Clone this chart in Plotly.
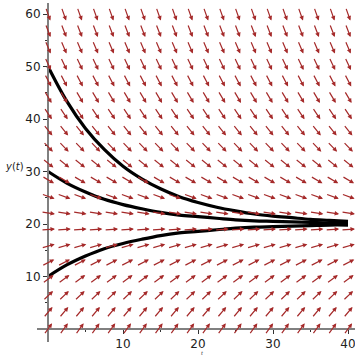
import math
import plotly.graph_objects as go

# ---- data ----
t_curve = [0, 2.5, 5, 7.5, 10, 12.5, 15, 17.5, 20, 22.5, 25, 27.5, 30, 32.5, 35, 37.5, 40]
y_from_50 = [50, 43.4, 38.2, 34.2, 31.0, 28.6, 26.7, 25.2, 24.1, 23.2, 22.5, 21.9, 21.5, 21.2, 20.9, 20.7, 20.5]
y_from_30 = [30, 27.8, 26.1, 24.7, 23.7, 22.9, 22.2, 21.7, 21.4, 21.1, 20.8, 20.6, 20.5, 20.4, 20.3, 20.2, 20.2]
y_from_10 = [10, 12.2, 13.9, 15.3, 16.3, 17.1, 17.8, 18.3, 18.6, 18.9, 19.2, 19.4, 19.5, 19.6, 19.7, 19.8, 19.8]

# slope-field grid (20 x 20) and the slope of each row
t_grid = [0, 2.105, 4.211, 6.316, 8.421, 10.526, 12.632, 14.737, 16.842, 18.947,
          21.053, 23.158, 25.263, 27.368, 29.474, 31.579, 33.684, 35.789, 37.895, 40]
y_grid = [0, 3.158, 6.316, 9.474, 12.632, 15.789, 18.947, 22.105, 25.263, 28.421,
          31.579, 34.737, 37.895, 41.053, 44.211, 47.368, 50.526, 53.684, 56.842, 60]
row_slope = [2.0, 1.684, 1.368, 1.053, 0.737, 0.421, 0.105, -0.211, -0.526, -0.842,
             -1.158, -1.474, -1.789, -2.105, -2.421, -2.737, -3.053, -3.368, -3.684, -4.0]

x_ticks = [10, 20, 30, 40]
y_ticks = [10, 20, 30, 40, 50, 60]

# ---- layout geometry ----
W, H = 355, 355
ml, mr, mt, mb = 37, 0, 3, 13
xr = [-1.4667, 40.933]
yr = [-2.476, 62.095]
pw, ph = W - ml - mr, H - mt - mb
kx = pw / (xr[1] - xr[0])
ky = ph / (yr[1] - yr[0])

ARROW = "#a52a2a"
half_len = 7.0

fig = go.Figure()

annotations = []
for yv, s in zip(y_grid, row_slope):
    vx, vy = kx * 1.0, ky * s
    n = math.hypot(vx, vy)
    hx = half_len * vx / n / kx
    hy = half_len * vy / n / ky
    for tv in t_grid:
        annotations.append(dict(
            x=tv + hx, y=yv + hy, ax=tv - hx, ay=yv - hy,
            xref="x", yref="y", axref="x", ayref="y",
            text="", showarrow=True, arrowhead=2, arrowsize=0.75,
            arrowwidth=1.2, arrowcolor=ARROW, standoff=0, startstandoff=0,
        ))

for ys in (y_from_50, y_from_30, y_from_10):
    fig.add_trace(go.Scatter(
        x=t_curve, y=ys, mode="lines",
        line=dict(color="black", width=3.2, shape="spline", smoothing=1.0),
        hoverinfo="skip", showlegend=False,
    ))

annotations.append(dict(
    text="<i>y</i>(<i>t</i>)", x=(14 - ml) / pw, y=1 - (166 - mt) / ph,
    xref="paper", yref="paper", xanchor="center", yanchor="middle",
    showarrow=False,
    font=dict(family="DejaVu Sans", size=10, color="#222"),
))
annotations.append(dict(
    text="<i>t</i>", x=(202 - ml) / pw, y=1 - (352.5 - mt) / ph,
    xref="paper", yref="paper", xanchor="center", yanchor="middle",
    showarrow=False,
    font=dict(family="DejaVu Sans", size=5, color="#222"),
))

axis_common = dict(
    showgrid=False, zeroline=False, showline=True, linecolor="#808080",
    linewidth=2, ticks="outside", ticklen=4, tickwidth=1, tickcolor="#333",
    tickfont=dict(family="DejaVu Sans", size=12, color="#222"),
    anchor="free", automargin=False, ticklabeloverflow="allow",
)

fig.update_layout(
    width=W, height=H,
    margin=dict(l=ml, r=mr, t=mt, b=mb, autoexpand=False),
    paper_bgcolor="white", plot_bgcolor="white",
    xaxis=dict(range=xr, tickmode="array", tickvals=x_ticks,
               position=(0 - yr[0]) / (yr[1] - yr[0]),
               minor=dict(tickvals=[5, 15, 25, 35], ticks="outside", ticklen=2,
                          tickcolor="#333"),
               **axis_common),
    yaxis=dict(range=yr, tickmode="array", tickvals=y_ticks,
               position=(0 - xr[0]) / (xr[1] - xr[0]),
               minor=dict(tickvals=[5, 15, 25, 35, 45, 55], ticks="outside", ticklen=2,
                          tickcolor="#333"),
               **axis_common),
    annotations=annotations,
    showlegend=False,
)

fig.write_html("out.html", config={"displayModeBar": False},
               post_script="document.body.style.margin='0';")
